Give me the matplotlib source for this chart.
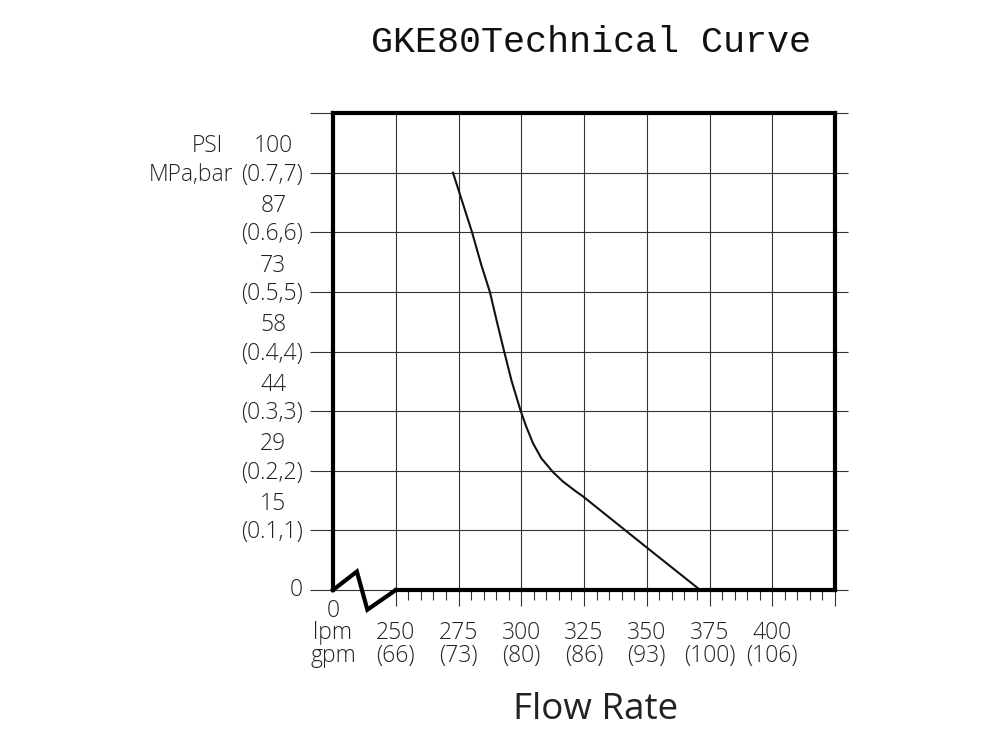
import numpy as np
import matplotlib
matplotlib.use('Agg')
import matplotlib.pyplot as plt

# curve: flow in lpm, pressure in bar
flow = [272.8, 280.4, 284.1, 287.5, 290.3, 293.2, 296.2, 299.8, 302.0, 304.7, 308.0,
        312.6, 316.6, 321.9, 324.6, 349.8, 371.3]
pressure = [7.0, 6.0, 5.45, 5.0, 4.5, 4.0, 3.5, 3.0, 2.74, 2.46, 2.21,
            1.98, 1.82, 1.65, 1.57, 0.72, 0.0]

lpm_ticks = [250, 275, 300, 325, 350, 375, 400]
gpm_labels = ['(66)', '(73)', '(80)', '(86)', '(93)', '(100)', '(106)']
bar_ticks = [1, 2, 3, 4, 5, 6, 7]
psi_labels = ['15', '29', '44', '58', '73', '87', '100']
mpa_labels = ['(0.1,1)', '(0.2,2)', '(0.3,3)', '(0.4,4)', '(0.5,5)', '(0.6,6)', '(0.7,7)']

x_min, x_max = 225, 425
y_min, y_max = 0, 8

lab_font = dict(family=['Open Sans', 'DejaVu Sans'], fontweight='light', fontsize=16.5, color='#222222')

fig = plt.figure(figsize=(10, 7.5), dpi=100)
ax = fig.add_axes([0.333, 0.2133, 0.502, 0.636])
ax.set_xlim(x_min, x_max)
ax.set_ylim(y_min, y_max)

# vertical grid + ticks under the axis
ax.set_xticks(lpm_ticks + [425])
ax.set_xticks([v for v in range(255, 425, 5) if v % 25 != 0], minor=True)
ax.set_yticks([])
ax.set_xticklabels([])
ax.grid(True, axis='x', which='major', color='#333333', lw=0.8)
ax.tick_params(axis='x', which='major', direction='out', length=11.5, width=0.8, color='#333333')
ax.tick_params(axis='x', which='minor', direction='out', length=7, width=0.8, color='#333333')

# horizontal grid, running a bit past the frame on both sides
ax.hlines(range(0, 9), 215.8, 430.2, color='#333333', lw=0.8, clip_on=False, zorder=1)

# frame: thick left/right/top, bottom drawn with the axis break
for s in ['left', 'right', 'top']:
    ax.spines[s].set_linewidth(3)
    ax.spines[s].set_color('black')
ax.spines['bottom'].set_visible(False)
ax.plot([250, 425], [0, 0], color='black', lw=3, clip_on=False, solid_capstyle='projecting', zorder=4)
ax.plot([225, 234.5, 238.7, 250], [0, 0.31, -0.33, 0], color='black', lw=3,
        clip_on=False, solid_joinstyle='miter', zorder=4)

# curve
ax.plot(flow, pressure, color='#111111', lw=1.5, zorder=3)

# y labels
for v, p, m in zip(bar_ticks, psi_labels, mpa_labels):
    ax.annotate(m, xy=(0, v), xycoords=('axes fraction', 'data'), xytext=(-44, -1.5),
                textcoords='offset points', ha='center', va='center', **lab_font)
    ax.annotate(p, xy=(0, v), xycoords=('axes fraction', 'data'), xytext=(-43, 19),
                textcoords='offset points', ha='center', va='center', **lab_font)
ax.annotate('0', xy=(0, 0), xycoords=('axes fraction', 'data'), xytext=(-22, 0),
            textcoords='offset points', ha='right', va='center', **lab_font)
ax.annotate('PSI', xy=(0, 7), xycoords=('axes fraction', 'data'), xytext=(-79, 19),
            textcoords='offset points', ha='right', va='center', **lab_font)
ax.annotate('MPa,bar', xy=(0, 7), xycoords=('axes fraction', 'data'), xytext=(-72, -1.5),
            textcoords='offset points', ha='right', va='center', **lab_font)

# x labels
for v, g in zip(lpm_ticks, gpm_labels):
    ax.annotate(str(v), xy=(v, 0), xycoords=('data', 'axes fraction'), xytext=(0, -31),
                textcoords='offset points', ha='center', va='center', **lab_font)
    ax.annotate(g, xy=(v, 0), xycoords=('data', 'axes fraction'), xytext=(0, -47.5),
                textcoords='offset points', ha='center', va='center', **lab_font)
ax.annotate('0', xy=(x_min, 0), xycoords=('data', 'axes fraction'), xytext=(0, -15),
            textcoords='offset points', ha='center', va='center', **lab_font)
ax.annotate('lpm', xy=(x_min, 0), xycoords=('data', 'axes fraction'), xytext=(0, -31),
            textcoords='offset points', ha='center', va='center', **lab_font)
ax.annotate('gpm', xy=(x_min, 0), xycoords=('data', 'axes fraction'), xytext=(0, -47.5),
            textcoords='offset points', ha='center', va='center', **lab_font)

fig.text(0.596, 0.053, 'Flow Rate', ha='center', va='center',
         family=['Open Sans', 'DejaVu Sans'], fontsize=26.5, color='#222222')
fig.text(0.591, 0.944, 'GKE80Technical Curve', ha='center', va='center',
         family=['Liberation Mono', 'DejaVu Sans Mono'], fontsize=26.5, color='#111111')

fig.savefig('out.png', dpi=100)
